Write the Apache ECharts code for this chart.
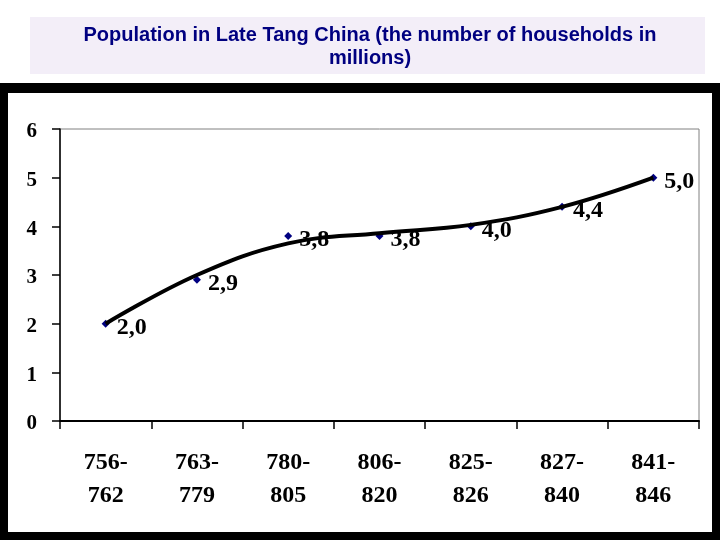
<!DOCTYPE html>
<html>
<head>
<meta charset="utf-8">
<script src="https://cdn.jsdelivr.net/npm/echarts@6/dist/echarts.min.js"></script>
<style>html,body{margin:0;padding:0;background:#fff;}#c{width:720px;height:540px;}</style>
</head>
<body>
<div id="c"></div>
<script>
var categories = ['756-\n762', '763-\n779', '780-\n805', '806-\n820', '825-\n826', '827-\n840', '841-\n846'];
var households = [2.0, 2.9, 3.8, 3.8, 4.0, 4.4, 5.0];
var trendValues = [2.0, 3.0, 3.65, 3.86, 4.03, 4.4, 5.0];
var yTicks = [0, 1, 2, 3, 4, 5, 6];
var titleText = 'Population in Late Tang China (the number of households in\nmillions)';

var chart = echarts.init(document.getElementById('c'));
var serif = 'Liberation Serif, Times New Roman, serif';
chart.setOption({
  animation: false,
  backgroundColor: '#ffffff',
  graphic: [
    { type: 'rect', z: -10, shape: { x: 30, y: 17, width: 675, height: 57 }, style: { fill: '#f3eef8' } },
    { type: 'rect', z: -10, shape: { x: 0, y: 83, width: 720, height: 457 }, style: { fill: '#000000' } },
    { type: 'rect', z: -9, shape: { x: 8, y: 93, width: 704, height: 439 }, style: { fill: '#ffffff' } }
  ],
  title: {
    text: titleText,
    left: 365,
    top: 19,
    textAlign: 'center',
    textStyle: { fontFamily: 'Liberation Sans, Arial, sans-serif', fontSize: 20, fontWeight: 'bold', color: '#000080', lineHeight: 23 }
  },
  grid: { left: 60, top: 129, right: 21, bottom: 119, show: true, borderColor: '#808080', borderWidth: 1, backgroundColor: 'transparent' },
  xAxis: {
    type: 'category',
    data: categories,
    boundaryGap: true,
    axisLine: { lineStyle: { color: '#000', width: 2 } },
    axisTick: { show: true, length: 8, alignWithLabel: false, lineStyle: { color: '#000', width: 1.5 } },
    axisLabel: { fontFamily: serif, fontWeight: 'bold', fontSize: 24, color: '#000', lineHeight: 33, margin: 25, interval: 0 },
    splitLine: { show: false }
  },
  yAxis: {
    type: 'value',
    min: yTicks[0],
    max: yTicks[yTicks.length - 1],
    interval: 1,
    axisLine: { show: true, lineStyle: { color: '#000', width: 1.5 } },
    axisTick: { show: true, length: 8, lineStyle: { color: '#000', width: 1.5 } },
    axisLabel: { fontFamily: serif, fontWeight: 'bold', fontSize: 21, color: '#000', margin: 23, verticalAlign: 'top', lineHeight: 20, padding: [-7, 0, 0, 0] },
    splitLine: { show: false }
  },
  series: [
    {
      type: 'line',
      name: 'households',
      data: households,
      z: 2,
      symbol: 'diamond',
      symbolSize: 8,
      showSymbol: true,
      lineStyle: { width: 0, opacity: 0 },
      itemStyle: { color: '#000080' },
      label: {
        show: true,
        position: 'right',
        distance: 7,
        offset: [0, 4],
        fontFamily: serif,
        fontWeight: 'bold',
        fontSize: 24,
        color: '#000',
        formatter: function (p) { return p.value.toFixed(1).replace('.', ','); }
      }
    },
    {
      type: 'line',
      name: 'trend',
      data: trendValues,
      z: 5,
      smooth: 0.4,
      symbol: 'none',
      lineStyle: { color: '#000', width: 4 },
      silent: true
    }
  ]
});
</script>
</body>
</html>
